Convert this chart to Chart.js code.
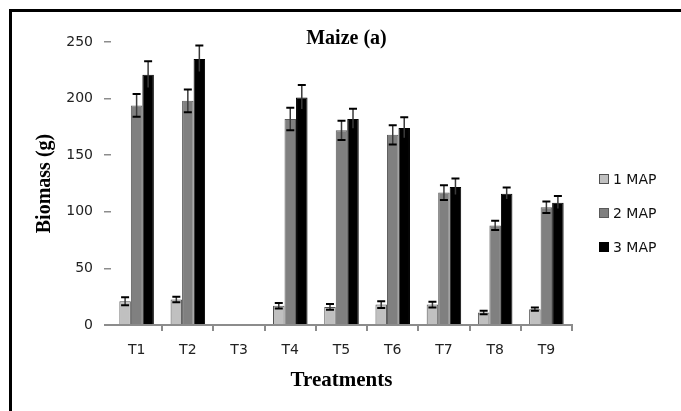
<!DOCTYPE html>
<html>
<head>
<meta charset="utf-8">
<title>Maize (a)</title>
<script src="https://cdn.jsdelivr.net/npm/chart.js@4.4.1/dist/chart.umd.min.js"></script>
<style>
  html, body { margin: 0; padding: 0; background: #fff; }
  #wrap { position: relative; width: 681px; height: 411px; overflow: hidden; }
  #biomassChart { position: absolute; left: 0; top: 0; }
  /* black frame on top and left, as in the scanned figure */
  #frame {
    position: absolute; left: 9px; top: 9px; right: -10px; bottom: -10px;
    border-top: 3px solid #000; border-left: 3px solid #000;
    pointer-events: none;
  }
</style>
</head>
<body>
<div id="wrap">
  <canvas id="biomassChart" width="681" height="411"></canvas>
  <div id="frame"></div>
</div>
<script>
// Data
const treatments = ["T1", "T2", "T3", "T4", "T5", "T6", "T7", "T8", "T9"];
const map1 = [21, 22.5, 0, 17, 16, 18, 18, 11, 14];
const map2 = [194, 198, 0, 182, 172, 168, 117, 88, 104];
const map3 = [221, 235, 0, 201, 182, 174, 122, 116, 108];
const map1Err = [3.5, 2.5, 0, 2.5, 2.5, 3, 2.5, 1.5, 1.5];
const map2Err = [10, 10, 0, 10, 8.5, 8.5, 6.5, 4, 5];
const map3Err = [12, 12, 0, 11, 9, 9.5, 7.5, 5.5, 6];
const yTicks = [0, 50, 100, 150, 200, 250];

const tickFont = { family: "DejaVu Sans", size: 14 };
const serifBold = (size) => ({ family: "Liberation Serif", size: size, weight: "bold" });

// Error bars drawn on top of each bar
const errorBars = {
  id: "errorBars",
  afterDatasetsDraw(chart) {
    const ctx = chart.ctx;
    const yScale = chart.scales.y;
    chart.data.datasets.forEach((ds, i) => {
      const meta = chart.getDatasetMeta(i);
      meta.data.forEach((bar, j) => {
        const err = ds.errors[j];
        if (!err) return;
        const v = ds.data[j];
        const top = yScale.getPixelForValue(v + err);
        const bottom = yScale.getPixelForValue(v - err);
        const x = bar.x;
        ctx.save();
        ctx.strokeStyle = "#3a3a3a";
        ctx.lineWidth = 1.5;
        ctx.beginPath();
        ctx.moveTo(x, top);
        ctx.lineTo(x, bottom);
        ctx.stroke();
        ctx.strokeStyle = "#000";
        ctx.lineWidth = 2;
        ctx.beginPath();
        ctx.moveTo(x - 4, top);
        ctx.lineTo(x + 4, top);
        ctx.moveTo(x - 4, bottom);
        ctx.lineTo(x + 4, bottom);
        ctx.stroke();
        ctx.restore();
      });
    });
  },
};

// Title and side legend placed like the original figure
const figureText = {
  id: "figureText",
  afterDraw(chart) {
    const ctx = chart.ctx;
    const area = chart.chartArea;
    ctx.save();
    ctx.fillStyle = "#000";
    ctx.font = "bold 20px 'Liberation Serif'";
    ctx.textAlign = "center";
    ctx.textBaseline = "middle";
    ctx.fillText("Maize (a)", (area.left + area.right) / 2 + 5, area.top - 3);

    ctx.font = "14px 'DejaVu Sans'";
    ctx.textAlign = "left";
    chart.data.datasets.forEach((ds, i) => {
      const bx = area.right + 27;
      const cy = area.top + 137 + i * 34;
      ctx.fillStyle = ds.backgroundColor;
      ctx.fillRect(bx, cy - 5, 10, 10);
      ctx.strokeStyle = ds.borderColor;
      ctx.lineWidth = 1;
      ctx.strokeRect(bx + 0.5, cy - 4.5, 9, 9);
      ctx.fillStyle = "#111";
      ctx.fillText(ds.label, bx + 14, cy + 1);
    });
    ctx.restore();
  },
};

document.addEventListener("DOMContentLoaded", function () {
  const chartCtx = document.getElementById("biomassChart").getContext("2d");
  new Chart(chartCtx, {
    type: "bar",
    data: {
      labels: treatments,
      datasets: [
        { label: "1 MAP", data: map1, errors: map1Err, backgroundColor: "#c0c0c0", borderColor: "#505050", borderWidth: 1 },
        { label: "2 MAP", data: map2, errors: map2Err, backgroundColor: "#808080", borderColor: "#5a5a5a", borderWidth: 1 },
        { label: "3 MAP", data: map3, errors: map3Err, backgroundColor: "#000000", borderColor: "#000000", borderWidth: 1 },
      ],
    },
    options: {
      responsive: false,
      animation: false,
      categoryPercentage: 0.674,
      barPercentage: 1.0,
      layout: { padding: { top: 42, left: 29, right: 109, bottom: 14 } },
      plugins: {
        legend: { display: false },
        title: { display: false },
        tooltip: { enabled: false },
      },
      scales: {
        x: {
          grid: {
            drawOnChartArea: false,
            tickLength: 6,
            color: (c) => (c.index === 0 ? "rgba(0,0,0,0)" : "#8c8c8c"),
            lineWidth: 2,
            offset: true,
          },
          border: { display: true, color: "#8c8c8c", width: 2 },
          ticks: { color: "#222", font: tickFont, padding: 11 },
          title: { display: true, text: "Treatments", color: "#000", font: serifBold(21), padding: { top: 4, bottom: 4 } },
          afterFit: (scale) => { scale.height = 72; },
        },
        y: {
          min: 0,
          max: 250,
          afterBuildTicks: (scale) => { scale.ticks = yTicks.map((v) => ({ value: v })); },
          grid: {
            drawOnChartArea: false,
            tickLength: 7,
            color: "#8c8c8c",
            lineWidth: (c) => (c.tick && c.tick.value === 0 ? 2 : 1.5),
          },
          border: { display: false },
          ticks: { color: "#222", font: tickFont, padding: 11 },
          title: { display: true, text: "Biomass (g)", color: "#000", font: serifBold(20), padding: { top: 4, bottom: 4 } },
          afterFit: (scale) => { scale.width = 82; },
        },
      },
    },
    plugins: [errorBars, figureText],
  });
});
</script>
</body>
</html>
